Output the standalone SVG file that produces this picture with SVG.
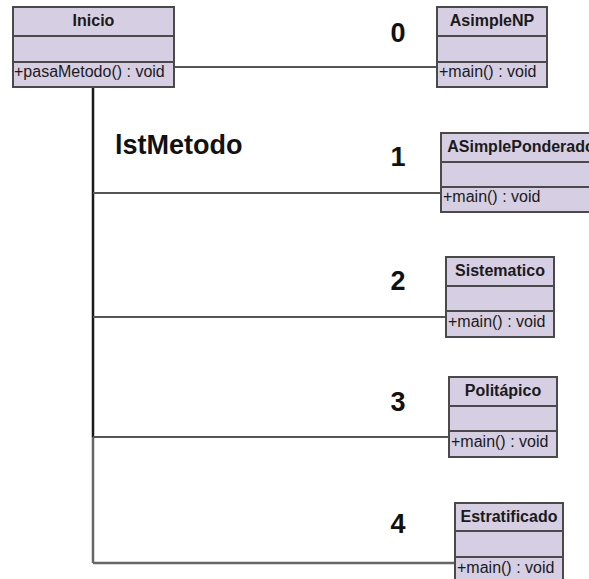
<svg xmlns="http://www.w3.org/2000/svg" width="589" height="579" viewBox="0 0 589 579">
  <style>
    .box { fill: #D6CEE2; stroke: #4a4a4a; stroke-width: 2; }
    .div { stroke: #4a4a4a; stroke-width: 2; }
    .title { font-family: "Liberation Sans", Arial, sans-serif; font-size: 16px; font-weight: bold; fill: #1a1a1a; text-anchor: middle; }
    .member { font-family: "Liberation Sans", Arial, sans-serif; font-size: 16px; fill: #1a1a1a; }
    .big { font-family: "Liberation Sans", Arial, sans-serif; font-size: 27px; font-weight: bold; fill: #111; }
    .num { text-anchor: middle; }
    .link { stroke: #555; stroke-width: 2; fill: none; }
    .trunk { stroke: #1a1a1a; stroke-width: 2.5; fill: none; }
    .trunk2 { stroke: #666; stroke-width: 2.5; fill: none; }
  </style>

  <!-- connectors -->
  <g id="connectors">
    <line class="link" x1="174" y1="67" x2="437" y2="67"/>
    <line class="trunk" x1="93" y1="87" x2="93" y2="437"/>
    <line class="trunk2" x1="93" y1="437" x2="93" y2="563"/>
    <line class="link" x1="93" y1="193" x2="441" y2="193"/>
    <line class="link" x1="93" y1="317" x2="446" y2="317"/>
    <line class="link" x1="93" y1="437" x2="449" y2="437"/>
    <line class="trunk2" x1="93" y1="563" x2="455" y2="563"/>
  </g>

  <!-- labels -->
  <text class="big" x="115" y="154">lstMetodo</text>
  <text class="big num" x="398" y="42">0</text>
  <text class="big num" x="398" y="166">1</text>
  <text class="big num" x="398" y="290">2</text>
  <text class="big num" x="398" y="411">3</text>
  <text class="big num" x="398" y="533">4</text>

  <!-- classes -->
  <g id="Inicio">
    <rect class="box" x="13" y="7" width="161" height="80"/>
    <line class="div" x1="13" y1="36" x2="174" y2="36"/>
    <line class="div" x1="13" y1="62" x2="174" y2="62"/>
    <text class="title" x="93.5" y="26">Inicio</text>
    <text class="member" x="14" y="77">+pasaMetodo() : void</text>
  </g>

  <g id="AsimpleNP">
    <rect class="box" x="437" y="7" width="110" height="80"/>
    <line class="div" x1="437" y1="36" x2="547" y2="36"/>
    <line class="div" x1="437" y1="62" x2="547" y2="62"/>
    <text class="title" x="492" y="26">AsimpleNP</text>
    <text class="member" x="439" y="77">+main() : void</text>
  </g>

  <g id="ASimplePonderado">
    <rect class="box" x="441" y="133" width="159" height="79"/>
    <line class="div" x1="441" y1="162" x2="600" y2="162"/>
    <line class="div" x1="441" y1="187" x2="600" y2="187"/>
    <text class="title" x="521" y="152">ASimplePonderado</text>
    <text class="member" x="443" y="202">+main() : void</text>
  </g>

  <g id="Sistematico">
    <rect class="box" x="446" y="257" width="108" height="80"/>
    <line class="div" x1="446" y1="286" x2="554" y2="286"/>
    <line class="div" x1="446" y1="311" x2="554" y2="311"/>
    <text class="title" x="500" y="276">Sistematico</text>
    <text class="member" x="448" y="327">+main() : void</text>
  </g>

  <g id="Politapico">
    <rect class="box" x="449" y="377" width="108" height="80"/>
    <line class="div" x1="449" y1="406" x2="557" y2="406"/>
    <line class="div" x1="449" y1="431" x2="557" y2="431"/>
    <text class="title" x="503" y="396">Politápico</text>
    <text class="member" x="451" y="447">+main() : void</text>
  </g>

  <g id="Estratificado">
    <rect class="box" x="455" y="503" width="108" height="80"/>
    <line class="div" x1="455" y1="531" x2="563" y2="531"/>
    <line class="div" x1="455" y1="557" x2="563" y2="557"/>
    <text class="title" x="509" y="522">Estratificado</text>
    <text class="member" x="457" y="573">+main() : void</text>
  </g>
</svg>
